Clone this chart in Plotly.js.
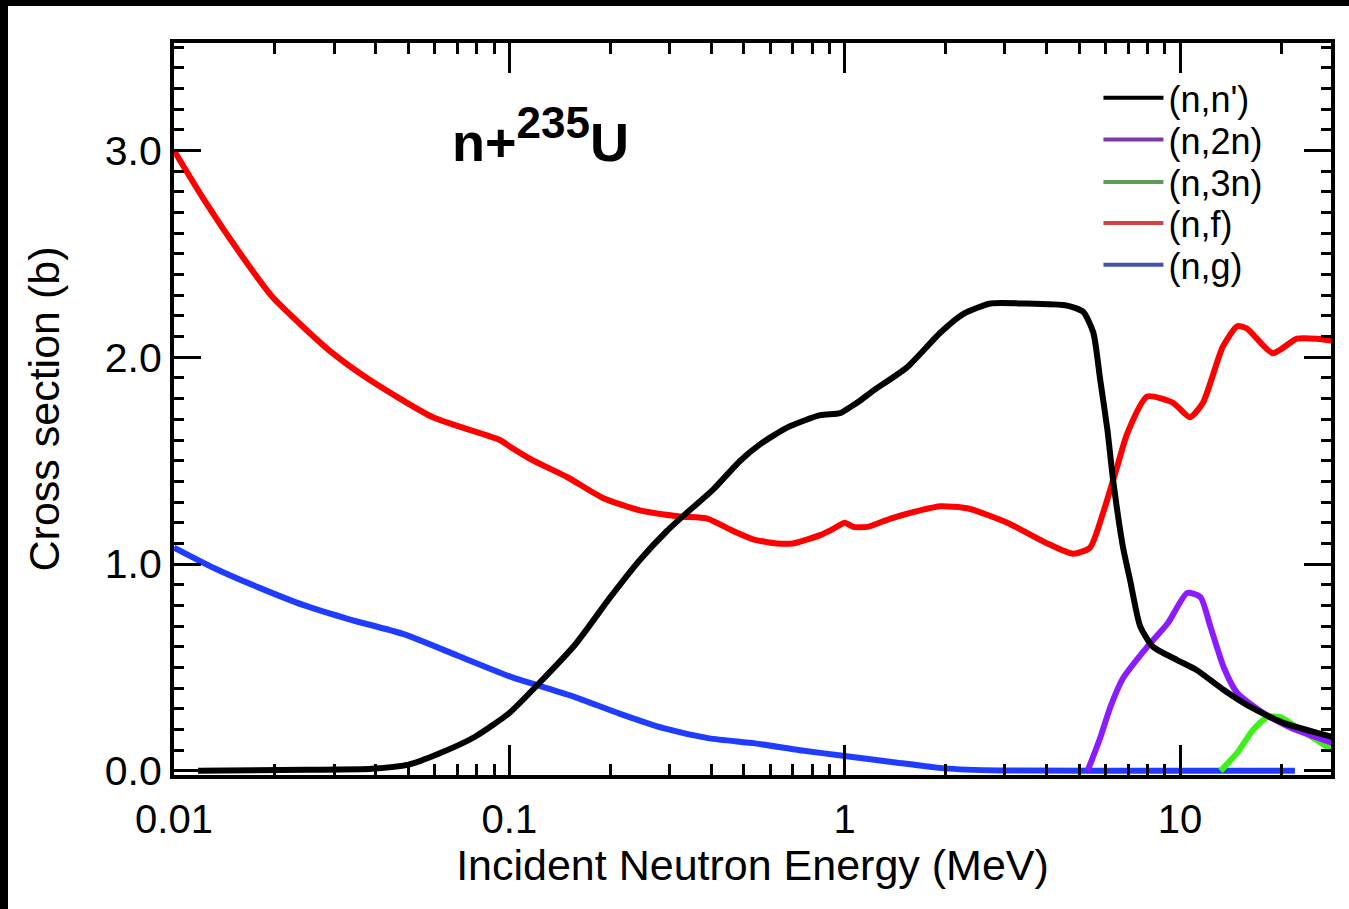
<!DOCTYPE html>
<html>
<head>
<meta charset="utf-8">
<script src="https://cdn.plot.ly/plotly-3.0.1.min.js"></script>
<style>
  html, body { margin: 0; padding: 0; background: #fff; width: 1349px; height: 909px; overflow: hidden; }
  #topband { position: absolute; left: 0; top: 0; width: 1349px; height: 6px; background: #000; }
  #leftband { position: absolute; left: 0; top: 0; width: 8px; height: 909px; background: #000; }
  #chart { position: absolute; left: 8px; top: 6px; width: 1341px; height: 903px; background: #fff; }
</style>
</head>
<body>
<div id="topband"></div>
<div id="leftband"></div>
<div id="chart"></div>
<script>
// (n,f) fission
const fissE = [0.01, 0.0122, 0.0161, 0.0197, 0.0238, 0.0292, 0.0384, 0.0592, 0.0937, 0.1, 0.118, 0.149, 0.19, 0.245, 0.323, 0.389, 0.465, 0.533, 0.628, 0.701, 0.845, 0.923, 1.0, 1.06, 1.17, 1.37, 1.68, 1.93, 2.32, 3.05, 4.02, 4.8, 5.39, 5.9, 6.49, 6.95, 7.98, 9.53, 10.7, 11.7, 13.4, 14.8, 15.8, 18.9, 22.3, 25.6, 28.5];
const fissXS = [3.0, 2.77, 2.48, 2.29, 2.16, 2.03, 1.89, 1.71, 1.6, 1.57, 1.5, 1.42, 1.32, 1.26, 1.23, 1.22, 1.16, 1.12, 1.1, 1.1, 1.14, 1.17, 1.2, 1.18, 1.18, 1.22, 1.26, 1.28, 1.27, 1.2, 1.1, 1.05, 1.08, 1.25, 1.47, 1.63, 1.81, 1.78, 1.71, 1.78, 2.05, 2.15, 2.14, 2.02, 2.09, 2.09, 2.08];

// (n,n') inelastic
const inelE = [0.0118, 0.025, 0.039, 0.05, 0.062, 0.079, 0.1, 0.122, 0.157, 0.2, 0.245, 0.295, 0.339, 0.405, 0.488, 0.56, 0.673, 0.845, 0.968, 1.04, 1.11, 1.22, 1.53, 1.93, 2.26, 2.72, 3.41, 4.6, 5.14, 5.51, 5.78, 6.07, 6.31, 6.76, 7.1, 7.6, 8.3, 9.8, 11.2, 13.5, 16.2, 20.3, 25.6, 28.5];
const inelXS = [0.0, 0.005, 0.01, 0.03, 0.085, 0.165, 0.28, 0.42, 0.61, 0.84, 1.02, 1.16, 1.25, 1.36, 1.5, 1.58, 1.66, 1.72, 1.73, 1.76, 1.79, 1.84, 1.95, 2.12, 2.21, 2.26, 2.26, 2.25, 2.22, 2.12, 1.89, 1.65, 1.41, 1.08, 0.92, 0.7, 0.6, 0.536, 0.488, 0.391, 0.309, 0.232, 0.184, 0.164];

// (n,g) capture
const captE = [0.01, 0.0132, 0.018, 0.0245, 0.0333, 0.0484, 0.0702, 0.1016, 0.122, 0.157, 0.213, 0.29, 0.395, 0.54, 0.735, 1.0, 1.38, 1.98, 2.9, 10, 22];
const captXS = [1.08, 0.98, 0.885, 0.8, 0.733, 0.661, 0.557, 0.453, 0.413, 0.357, 0.277, 0.205, 0.157, 0.133, 0.1, 0.072, 0.043, 0.012, 0.002, 0.0, 0.0];

// (n,2n)
const n2nE = [5.3, 5.78, 6.2, 6.77, 7.98, 9.2, 10.5, 11.5, 12.3, 13.5, 14.8, 17.7, 21.3, 28.5];
const n2nXS = [0.0, 0.16, 0.31, 0.45, 0.6, 0.715, 0.86, 0.84, 0.7, 0.5, 0.377, 0.28, 0.21, 0.135];

// (n,3n)
const n3nE = [13.2, 14.8, 16.5, 18.2, 19.9, 22.3, 28.5];
const n3nXS = [0.0, 0.087, 0.198, 0.26, 0.26, 0.21, 0.1];

const legendNames = ["(n,n')", "(n,2n)", "(n,3n)", "(n,f)", "(n,g)"];
const legendColors = ["#000000", "#7d3aa6", "#5a9e5a", "#cf4444", "#4352aa"];
const legendIds = ['legend', 'legend2', 'legend3', 'legend4', 'legend5'];
const legendRowY = [0.925, 0.868, 0.810, 0.754, 0.697];

const W = 6;
const S = {shape: 'spline', smoothing: 0.6};
const traces = [
  {x: captE, y: captXS, mode: 'lines', line: Object.assign({color: '#1f3cff', width: W}, S), showlegend: false, name: '(n,g)'},
  {x: fissE, y: fissXS, mode: 'lines', line: Object.assign({color: '#ff0000', width: W}, S), showlegend: false, name: '(n,f)'},
  {x: n3nE, y: n3nXS, mode: 'lines', line: Object.assign({color: '#3ff01a', width: W}, S), showlegend: false, name: '(n,3n)'},
  {x: n2nE, y: n2nXS, mode: 'lines', line: Object.assign({color: '#8a1cff', width: W}, S), showlegend: false, name: '(n,2n)'},
  {x: inelE, y: inelXS, mode: 'lines', line: Object.assign({color: '#000000', width: W}, S), showlegend: false, name: "(n,n')"}
];
legendNames.forEach((nm, i) => {
  traces.push({x: [null], y: [null], mode: 'lines', name: nm, legend: legendIds[i],
               line: {color: legendColors[i], width: 4}, showlegend: true});
});

const font = 'Liberation Sans, Arial, sans-serif';
const layout = {
  width: 1341, height: 903,
  margin: {l: 166, r: 18, t: 37, b: 134},
  paper_bgcolor: '#ffffff', plot_bgcolor: '#ffffff',
  font: {family: font, color: '#000'},
  showlegend: true,
  xaxis: {
    type: 'log', range: [-2, 1.45], dtick: 1, tick0: 0,
    showgrid: false, zeroline: false,
    showline: true, linewidth: 4, linecolor: '#000', mirror: 'allticks',
    ticks: 'inside', ticklen: 30, tickwidth: 3, tickcolor: '#000',
    minor: {ticks: 'inside', ticklen: 11, tickwidth: 3, tickcolor: '#000', dtick: 'D1', showgrid: false},
    tickfont: {size: 40, family: font}, ticklabelstandoff: 6,
    title: {text: 'Incident Neutron Energy (MeV)', font: {size: 43, family: font}, standoff: 11}
  },
  yaxis: {
    range: [-0.02, 3.52], dtick: 1, tick0: 0, tickformat: '.1f',
    showgrid: false, zeroline: false,
    showline: true, linewidth: 4, linecolor: '#000', mirror: 'allticks',
    ticks: 'inside', ticklen: 27, tickwidth: 3, tickcolor: '#000',
    minor: {ticks: 'inside', ticklen: 10, tickwidth: 3, tickcolor: '#000', dtick: 0.1, showgrid: false},
    tickfont: {size: 41, family: font}, ticklabelstandoff: 0,
    title: {text: 'Cross section (b)', font: {size: 43, family: font}, standoff: 33}
  },
  annotations: [{
    text: '<b>n+<sup><span style="font-size:44px">235</span></sup>U</b>', xref: 'paper', yref: 'paper', x: 0.317, y: 0.875,
    xanchor: 'center', yanchor: 'middle', showarrow: false, font: {size: 54, family: font, color: '#000'}
  }]
};
legendIds.forEach((id, i) => {
  layout[id] = {x: 0.799, y: legendRowY[i], xanchor: 'left', yanchor: 'middle', bgcolor: 'rgba(0,0,0,0)',
                font: {size: 36, family: font, color: '#000'}, itemwidth: 60};
});
Plotly.newPlot('chart', traces, layout, {displayModeBar: false, staticPlot: true});
</script>
</body>
</html>
